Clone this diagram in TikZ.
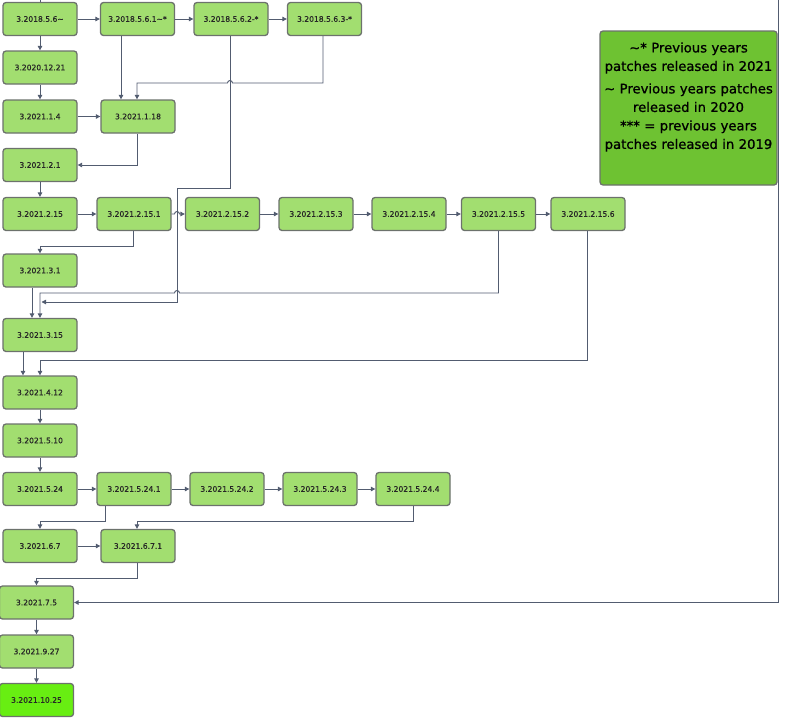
\documentclass[tikz,border=0pt]{standalone}
\usepackage{fontspec}
\setmainfont{DejaVu Sans}
\newfontfamily\verfont{DejaVu Sans}[FakeBold=0.4]
\newfontfamily\keyfont{DejaVu Sans}[FakeBold=0.9]
\usetikzlibrary{arrows.meta}
\definecolor{verfill}{RGB}{162,222,112}
\definecolor{verdone}{RGB}{104,238,18}
\definecolor{verrim}{RGB}{108,114,108}
\definecolor{keyfill}{RGB}{110,194,50}
\definecolor{linkcol}{RGB}{82,92,112}
\newcommand{\boxw}{74pt}
\newcommand{\boxh}{33pt}
\newcommand{\hop}{2.5pt}
\newcommand{\squig}{\textasciitilde}
\begin{document}
\begin{tikzpicture}[x=1pt,y=-1pt,
    ver/.style={draw=verrim,line width=1.3pt,fill=verfill,rounded corners=3pt,
      minimum width=\boxw,minimum height=\boxh,inner sep=0pt,
      font=\verfont\fontsize{7.6}{9}\selectfont,text=black!85},
    link/.style={draw=linkcol,line width=0.9pt,-{Triangle[length=4.5pt,width=4.5pt]}},
    keybox/.style={draw=verrim,line width=1.3pt,fill=keyfill,rounded corners=3pt},
    keytext/.style={text width=177pt,align=center,inner sep=0pt,
      font=\keyfont\fontsize{13.2}{18.5}\selectfont}]
  \useasboundingbox (0,0) rectangle (785,721);
  % 2018 patches
  \node[ver] (r56) at (40,19) {3.2018.5.6\squig};
  \node[ver] (r561) at (137.5,19) {3.2018.5.6.1\squig*};
  \node[ver] (r562) at (231,19) {3.2018.5.6.2-*};
  \node[ver] (r563) at (324.5,19) {3.2018.5.6.3-*};
  % main line
  \node[ver] (v1221) at (40,67.5) {3.2020.12.21};
  \node[ver] (v14) at (40,116.5) {3.2021.1.4};
  \node[ver] (v118) at (138,116.5) {3.2021.1.18};
  \node[ver] (v21) at (40,165) {3.2021.2.1};
  \node[ver] (v215) at (40,214) {3.2021.2.15};
  \node[ver] (v2151) at (134,214) {3.2021.2.15.1};
  \node[ver] (v2152) at (222.5,214) {3.2021.2.15.2};
  \node[ver] (v2153) at (316,214) {3.2021.2.15.3};
  \node[ver] (v2154) at (409,214) {3.2021.2.15.4};
  \node[ver] (v2155) at (498.5,214) {3.2021.2.15.5};
  \node[ver] (v2156) at (588,214) {3.2021.2.15.6};
  \node[ver] (v31) at (40,270.5) {3.2021.3.1};
  \node[ver] (v315) at (40,335) {3.2021.3.15};
  \node[ver] (v412) at (40,392.5) {3.2021.4.12};
  \node[ver] (v510) at (40,440.5) {3.2021.5.10};
  \node[ver] (v524) at (40,489) {3.2021.5.24};
  \node[ver] (v5241) at (134,489) {3.2021.5.24.1};
  \node[ver] (v5242) at (227,489) {3.2021.5.24.2};
  \node[ver] (v5243) at (320,489) {3.2021.5.24.3};
  \node[ver] (v5244) at (413,489) {3.2021.5.24.4};
  \node[ver] (v67) at (40,546) {3.2021.6.7};
  \node[ver] (v671) at (138,546) {3.2021.6.7.1};
  \node[ver] (v75) at (36.5,602.5) {3.2021.7.5};
  \node[ver] (v927) at (36.5,651.5) {3.2021.9.27};
  \node[ver,fill=verdone] (v1025) at (36.5,700) {3.2021.10.25};
  % key
  \draw[keybox] (600,31) rectangle (777,185);
  \node[keytext] (key) at (688.5,97) {\squig* Previous years\\patches released in 2021\\[4pt]
    \squig{} Previous years patches\\released in 2020\\{}*** = previous years\\patches released in 2019};
  % free ends
  \coordinate (topin) at (40,0);
  \coordinate (topright) at (778,0);
  \coordinate (join315) at (41.5,302);
  % straight links
  \draw[link,-] (topin) -- (r56);
  \foreach \a/\b in {r56/r561,r561/r562,r562/r563,r56/v1221,v1221/v14,v14/v118,
      v21/v215,v215/v2151,v2152/v2153,v2153/v2154,v2154/v2155,v2155/v2156,
      v412/v510,v510/v524,v524/v5241,v5241/v5242,v5242/v5243,v5243/v5244,
      v67/v671,v75/v927,v927/v1025}
    \draw[link] (\a) -- (\b);
  \draw[link] (v2151.east) -- (174.5,214) arc[start angle=180,end angle=0,radius=\hop] -- (v2152.west);
  % bent links
  \draw[link] ([xshift=-16.5pt]r561.south) -- ([xshift=-17pt]v118.north);
  \draw[link] ([xshift=-1.5pt]r563.south) |- (232.5,83) arc[start angle=0,end angle=180,radius=\hop]
    -- (137,83) -- ([xshift=-1pt]v118.north);
  \draw[link] ([xshift=-1pt]v118.south) |- (v21.east);
  \draw[link] ([xshift=-1pt]r562.south) |- (177,188) -- (177,302) -- (join315);
  \draw[link] ([xshift=-1pt]v2151.south) -- ++(0,15) -| (v31.north);
  \draw[link] ([xshift=-8pt]v31.south) -- ([xshift=-8pt]v315.north);
  \draw[link] (v2155.south) |- (179.5,293) arc[start angle=0,end angle=180,radius=\hop] -| (v315.north);
  \draw[link] ([xshift=-17pt]v315.south) -- ([xshift=-17pt]v412.north);
  \draw[link] ([xshift=-1pt]v2156.south) -- ++(0,129.5) -| (v412.north);
  \draw[link] ([xshift=-29pt]v5241.south) -- ++(0,15.5) -| (v67.north);
  \draw[link] (v5244.south) -- ++(0,15.5) -| ([xshift=-1pt]v671.north);
  \draw[link] ([xshift=-1pt]v671.south) -- ++(0,15.5) -| (v75.north);
  \draw[link] (topright) |- (v75.east);
\end{tikzpicture}
\end{document}
